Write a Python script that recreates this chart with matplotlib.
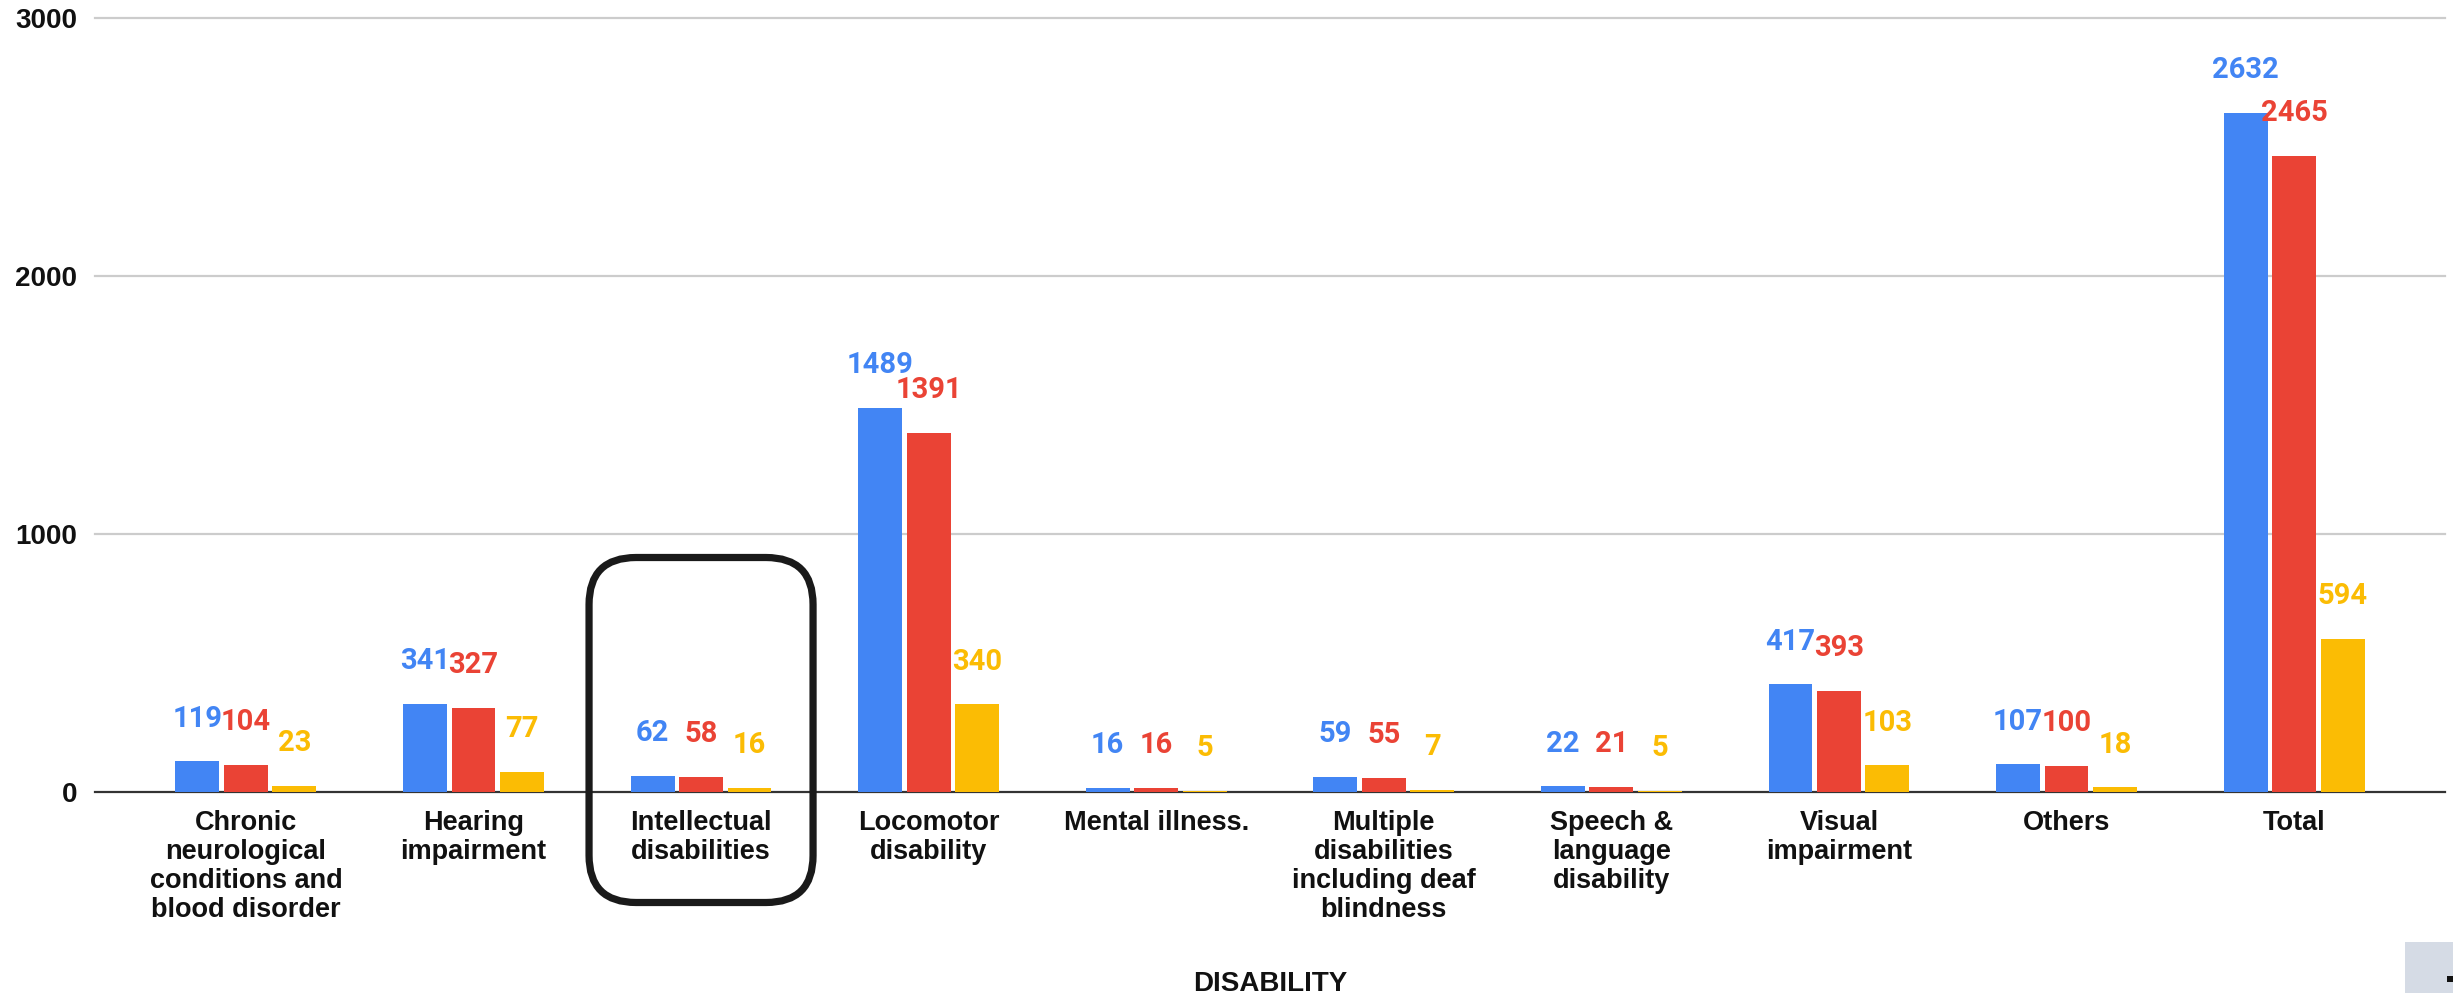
import numpy as np
import matplotlib
matplotlib.use("Agg")
import matplotlib.pyplot as plt
from matplotlib.patches import FancyBboxPatch, Rectangle
from matplotlib.transforms import IdentityTransform

categories = ["Chronic\nneurological\nconditions and\nblood disorder",
              "Hearing\nimpairment",
              "Intellectual\ndisabilities",
              "Locomotor\ndisability",
              "Mental illness.",
              "Multiple\ndisabilities\nincluding deaf\nblindness",
              "Speech &\nlanguage\ndisability",
              "Visual\nimpairment",
              "Others",
              "Total"]
series_blue = [119, 341, 62, 1489, 16, 59, 22, 417, 107, 2632]
series_red = [104, 327, 58, 1391, 16, 55, 21, 393, 100, 2465]
series_yellow = [23, 77, 16, 340, 5, 7, 5, 103, 18, 594]
y_ticks = [0, 1000, 2000, 3000]
highlight = 2  # "Intellectual disabilities"

colors = ["#4285F4", "#EA4335", "#FBBC04"]
label_font = "Liberation Sans"
value_font = "Roboto"

W, H = 2453, 993
fig = plt.figure(figsize=(W / 100, H / 100), dpi=100)
ax = fig.add_axes([95 / W, 201 / H, (2445 - 95) / W, (792 - 18) / H])

x = np.arange(len(categories))
step = 0.213
width = 0.193
for i, (vals, col) in enumerate(zip([series_blue, series_red, series_yellow], colors)):
    pos = x + (i - 1) * step
    ax.bar(pos, vals, width=width, color=col, zorder=3)
    for px, v in zip(pos, vals):
        ax.annotate(str(v), (px, v), xytext=(0, 25), textcoords="offset points",
                    ha="center", va="baseline", color=col, fontsize=21,
                    fontweight="bold", family=value_font, zorder=4)

ax.set_xlim(-0.663, len(categories) - 1 + 0.663)
ax.set_ylim(0, 3000)
ax.set_yticks(y_ticks)
ax.set_yticklabels([str(t) for t in y_ticks], fontsize=20, fontweight="bold",
                   family=label_font, color="#111111")
ax.set_xticks(x)
ax.set_xticklabels(categories, fontsize=19.5, fontweight="bold", family=label_font,
                   color="#111111", linespacing=1.15)
ax.tick_params(axis="y", length=0, pad=13)
ax.tick_params(axis="x", length=0, pad=13)
for s in ax.spines.values():
    s.set_visible(False)
for t in y_ticks[1:]:
    ax.axhline(t, color="#cccccc", lw=1.6, zorder=1, clip_on=False)
ax.axhline(0, color="#333333", lw=1.6, zorder=2, clip_on=False)

fig.text((95 + 2445) / 2 / W, 2 / H, "DISABILITY", ha="center", va="baseline",
         fontsize=20, fontweight="bold", family=label_font, color="#111111")

# rounded highlight box around one category
fig.canvas.draw()
cx, zy = ax.transData.transform((x[highlight], 0))
box = FancyBboxPatch((cx - 112, zy - 110.5), 224, 345,
                     boxstyle="round,pad=0,rounding_size=47",
                     transform=IdentityTransform(), fill=False,
                     edgecolor="#1a1a1a", lw=5.2, zorder=10)
fig.patches.append(box)

# small grey tab in the bottom-right corner
fig.patches.append(Rectangle((2405 / W, 0), 48 / W, 51 / H, transform=fig.transFigure,
                             facecolor="#d5dbe5", edgecolor="none"))
fig.patches.append(Rectangle((2447 / W, 11 / H), 6 / W, 6 / H, transform=fig.transFigure,
                             facecolor="#111111", edgecolor="none"))

fig.savefig("out.png", dpi=100)
